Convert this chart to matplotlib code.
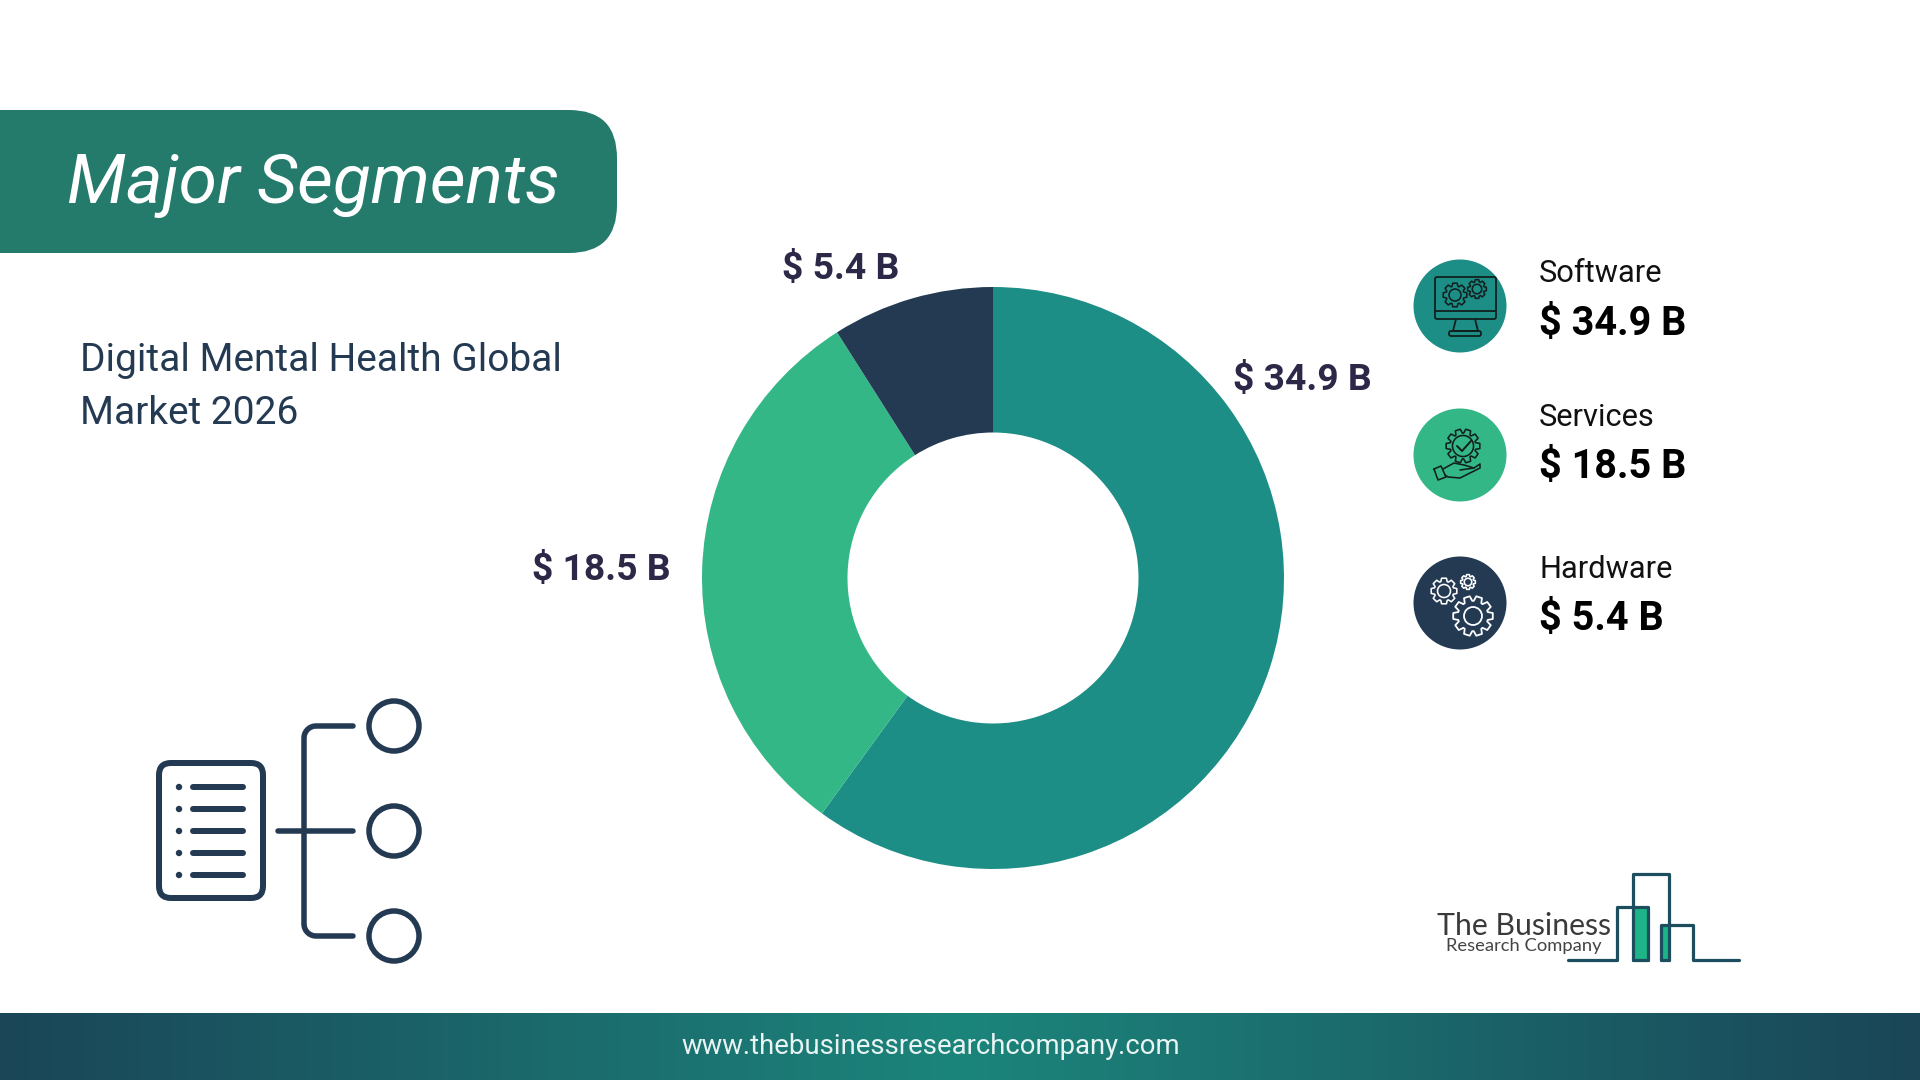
#!/usr/bin/python
# -*- coding: utf-8 -*-

"""
Major segments donut slide, digital mental health market
"""

import numpy as np
import matplotlib
matplotlib.use('Agg')
import matplotlib.pyplot as plt
from matplotlib.patches import Circle, FancyBboxPatch, Polygon, Rectangle
from matplotlib.colors import LinearSegmentedColormap

# Data
segments = ['Software', 'Services', 'Hardware']
values = [34.9, 18.5, 5.4]
# the slices follow rounded percentages, not the dollar figures
shares = [60, 31, 9]
title = 'Major Segments'
subtitle = 'Digital Mental Health Global\nMarket 2026'
website = 'www.thebusinessresearchcompany.com'

colors = ['#1C8E86', '#34B786', '#233A52']
navy = '#233A52'
label_color = '#2B2848'

plt.rcParams['font.family'] = ['Roboto', 'DejaVu Sans']

fig = plt.figure(figsize=(19.2, 10.8), dpi=100, facecolor='white')
ax = fig.add_axes([0, 0, 1, 1])
ax.set_xlim(0, 1920)
ax.set_ylim(1080, 0)
ax.axis('off')


def px(width):
    return width * 0.72


def gear(cx, cy, r, color, lw, teeth=8, hole=0.5):
    # outline of a cog wheel with a round hole
    pts = []
    step = 2 * np.pi / teeth
    for i in range(teeth):
        a = i * step
        for da, rad in [(-0.30, 0.76), (-0.17, 1.0), (0.17, 1.0), (0.30, 0.76)]:
            pts.append((cx + r * rad * np.cos(a + da * step * 1.4),
                        cy + r * rad * np.sin(a + da * step * 1.4)))
    ax.add_patch(Polygon(pts, closed=True, fill=False, ec=color, lw=px(lw), joinstyle='round'))
    ax.add_patch(Circle((cx, cy), r * hole, fill=False, ec=color, lw=px(lw)))


def path(xs, ys, color, lw):
    ax.plot(xs, ys, color=color, lw=px(lw), solid_capstyle='round', solid_joinstyle='round')


# Banner and footer
ax.add_patch(FancyBboxPatch((-80, 110), 697, 143, boxstyle='round,pad=0,rounding_size=48',
                            fc='#247A6B', ec='none'))
ax.text(67, 186, title, color='white', fontsize=50, style='italic', va='center', ha='left')
ax.text(80, 387, subtitle, color=navy, fontsize=28, va='center', ha='left', linespacing=1.54)

band = LinearSegmentedColormap.from_list('band', ['#1A4658', '#1C857B', '#1A4658'])
ax.imshow(np.linspace(0, 1, 256)[None, :], extent=(0, 1920, 1080, 1013), cmap=band, aspect='auto')
ax.set_xlim(0, 1920)
ax.set_ylim(1080, 0)
ax.text(931, 1047, website, color='#E8F3F2', fontsize=19.8, ha='center', va='center')

# Donut
cx, cy, radius = 993, 578, 291
pie_ax = fig.add_axes([(cx - radius) / 1920, (1080 - cy - radius) / 1080,
                       2 * radius / 1920, 2 * radius / 1080])
pie_ax.pie(shares, colors=colors, startangle=90, counterclock=False,
           radius=1, wedgeprops=dict(width=0.5, edgecolor='none'))
pie_ax.set_xlim(-1, 1)
pie_ax.set_ylim(-1, 1)

label_pos = [(1302, 380), (601, 570), (841, 269)]
for v, (lx, ly) in zip(values, label_pos):
    ax.text(lx, ly, f'$ {v} B', color=label_color, fontsize=26.8, fontweight='bold',
            ha='center', va='center')

# Legend
name_y = [274, 417, 569]
value_y = [324, 467, 619]
circle_y = [306, 455, 603]
for name, v, c, ny, vy, cy_ in zip(segments, values, colors, name_y, value_y, circle_y):
    ax.add_patch(Circle((1460, cy_), 46.5, fc=c, ec='none'))
    ax.text(1539, ny, name, color='#111111', fontsize=22.2, ha='left', va='center')
    ax.text(1539, vy, f'$ {v} B', color='black', fontsize=28.5, fontweight='bold',
            ha='left', va='center')

# Monitor icon
ink = '#10201F'
ax.add_patch(FancyBboxPatch((1435, 277), 61, 42, boxstyle='round,pad=0,rounding_size=2',
                            fill=False, ec=ink, lw=px(1.8)))
path([1435, 1496], [311, 311], ink, 1.8)
path([1456, 1453, 1478, 1475], [319, 331, 331, 319], ink, 1.8)
ax.add_patch(FancyBboxPatch((1449, 331), 32, 5, boxstyle='round,pad=0,rounding_size=2',
                            fill=False, ec=ink, lw=px(1.8)))
gear(1455, 295, 12, ink, 1.6)
gear(1477, 289, 9.5, ink, 1.6)

# Hand and cog icon
gear(1463, 446, 17, ink, 1.6, teeth=10, hole=0.62)
path([1457, 1462, 1471], [446, 451, 441], ink, 2.0)
path([1434, 1441, 1446, 1438, 1434], [469, 466, 477, 480, 469], ink, 1.6)
path([1443, 1454, 1464, 1474, 1460], [469, 463, 465, 468, 470], ink, 1.6)
path([1474, 1480, 1480, 1460, 1448, 1445], [468, 464, 468, 478, 477, 475], ink, 1.6)

# Gears icon
gear(1444, 591, 13, 'white', 1.6)
gear(1468, 582, 7.5, 'white', 1.6)
gear(1473, 616, 20, 'white', 1.8, teeth=10, hole=0.45)

# List icon bottom left
ax.add_patch(FancyBboxPatch((159, 763), 104, 135, boxstyle='round,pad=0,rounding_size=12',
                            fill=False, ec=navy, lw=px(6)))
for y in [787, 809, 831, 853, 875]:
    ax.add_patch(Circle((179, y), 3.2, fc=navy, ec='none'))
    path([193, 243], [y, y], navy, 6)
path([278, 353], [831, 831], navy, 5.5)
corner = np.linspace(0, np.pi / 2, 12)
bx = 304 + 12 * (1 - np.cos(corner))
by = 12 * (1 - np.sin(corner))
path(np.r_[353, bx[::-1], bx, 353], np.r_[726, 726 + by[::-1], 936 - by, 936], navy, 5.5)
for y in [726, 831, 936]:
    ax.add_patch(Circle((394, y), 25, fill=False, ec=navy, lw=px(5.5)))

# Logo
logo = '#1D4E5F'
ax.add_patch(Rectangle((1635, 907), 13, 53, fc='#1DB587', ec='none'))
ax.add_patch(Rectangle((1661, 925), 8, 35, fc='#1DB587', ec='none'))
path([1568, 1617, 1617, 1648, 1648], [960, 960, 907, 907, 960], logo, 3.2)
path([1633, 1633, 1669, 1669], [960, 874, 874, 960], logo, 3.2)
path([1661, 1661, 1693, 1693, 1739], [960, 925, 925, 960, 960], logo, 3.2)
path([1633, 1648], [960, 960], logo, 3.2)
path([1661, 1669], [960, 960], logo, 3.2)
ax.text(1437, 926, 'The Business', color='#3A3A3A', fontsize=21.8, family='Lato',
        ha='left', va='center')
ax.text(1446, 946, 'Research Company', color='#444444', fontsize=13.2, family='Lato',
        ha='left', va='center')

fig.savefig('out.png', dpi=100)
